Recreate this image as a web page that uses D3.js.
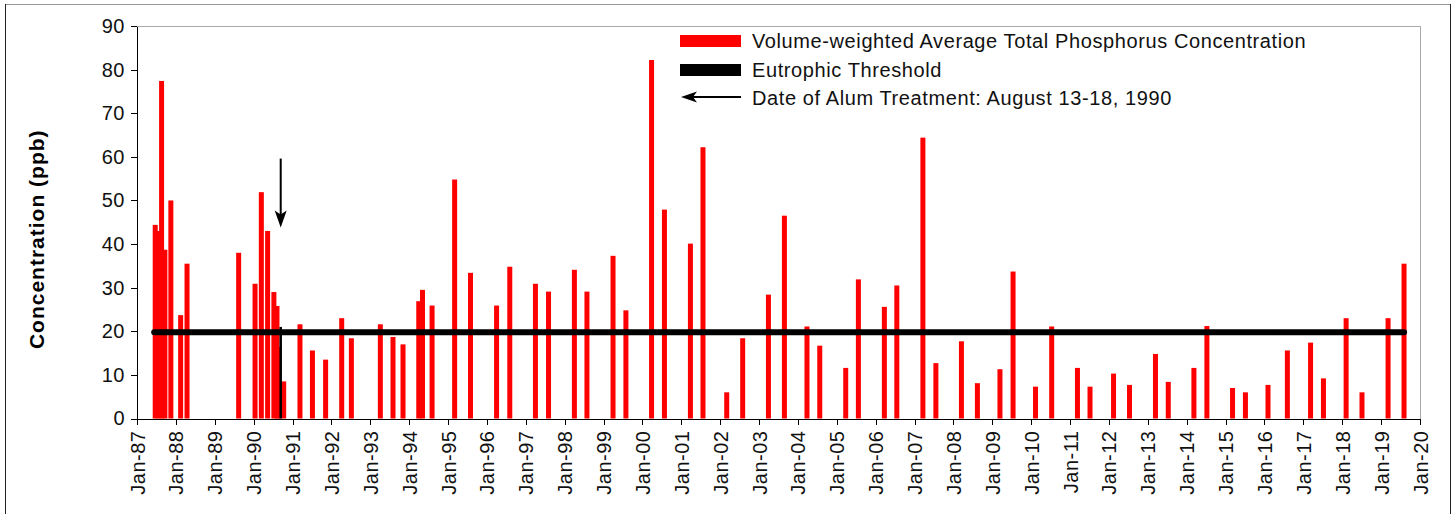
<!DOCTYPE html>
<meta charset="utf-8">
<style>
body {
  margin: 0;
  background: #fff;
}

svg {
  font-family: "Liberation Sans", Arial, sans-serif;
}

.axis path,
.axis line {
  stroke: #000;
  stroke-width: 1;
  shape-rendering: crispEdges;
}

.axis text {
  font-size: 20px;
  letter-spacing: 0.5px;
  fill: #111;
}

.frame {
  shape-rendering: crispEdges;
}

.legend text {
  font-size: 20px;
  letter-spacing: 0.6px;
  fill: #111;
}
</style>
<body>
<div id="chart"></div>
<script src="https://cdn.jsdelivr.net/npm/d3@7"></script>
<script>

// sample dates and volume-weighted average TP (ppb)
var sampleDates = [
  "1987-06-21", "1987-07-23", "1987-08-20", "1987-09-20", "1987-11-15",
  "1988-02-15", "1988-04-15", "1989-08-13", "1990-01-14", "1990-03-14",
  "1990-05-12", "1990-07-10", "1990-08-08", "1990-08-24", "1990-10-10",
  "1991-03-12", "1991-07-07", "1991-11-08", "1992-04-07", "1992-07-07",
  "1993-04-05", "1993-08-02", "1993-11-04", "1994-04-01", "1994-05-06",
  "1994-08-04", "1995-03-04", "1995-07-31", "1996-04-01", "1996-08-03",
  "1997-04-01", "1997-08-02", "1998-04-02", "1998-07-29", "1999-03-31",
  "1999-07-30", "2000-03-27", "2000-07-26", "2001-03-27", "2001-07-23",
  "2002-03-03", "2002-07-31", "2003-03-30", "2003-08-27", "2004-03-26",
  "2004-07-24", "2005-03-25", "2005-07-22", "2006-03-23", "2006-07-18",
  "2007-03-20", "2007-07-20", "2008-03-16", "2008-08-13", "2009-03-13",
  "2009-07-14", "2010-02-10", "2010-07-12", "2011-03-11", "2011-07-07",
  "2012-02-13", "2012-07-12", "2013-03-13", "2013-07-11", "2014-03-09",
  "2014-07-09", "2015-03-07", "2015-07-06", "2016-02-03", "2016-08-03",
  "2017-03-09", "2017-07-08", "2018-02-06", "2018-07-05", "2019-03-07",
  "2019-08-04"
];

var tpValues = [
  44.4, 43.0, 77.4, 38.7, 50.0,
  23.7, 35.5, 38.0, 30.9, 51.9,
  43.0, 29.0, 25.8, 16.4, 8.5,
  21.6, 15.6, 13.5, 23.0, 18.4,
  21.6, 18.7, 17.0, 26.9, 29.5,
  25.9, 54.8, 33.4, 25.9, 34.8,
  30.9, 29.1, 34.1, 29.1, 37.3,
  24.8, 82.2, 47.9, 40.1, 62.2,
  6.0, 18.4, 28.4, 46.5, 21.1,
  16.7, 11.6, 31.9, 25.6, 30.5,
  64.4, 12.7, 17.7, 8.1, 11.3,
  33.7, 7.3, 21.1, 11.6, 7.3,
  10.3, 7.7, 14.8, 8.4, 11.6,
  21.2, 7.0, 6.0, 7.7, 15.6,
  17.4, 9.2, 23.0, 6.0, 23.0,
  35.5
];

var eutrophicThreshold = 20;

// alum treatment marker: short bar plus arrow
var alumDate = "1990-09-12";
var alumBarValue = 21;
var alumArrowFrom = 59.6,
    alumArrowTo = 43.8;

var yTicks = [0, 10, 20, 30, 40, 50, 60, 70, 80, 90];
var tickYears = d3.range(1987, 2021);

var legendLabels = [
  "Volume-weighted Average Total Phosphorus Concentration",
  "Eutrophic Threshold",
  "Date of Alum Treatment: August 13-18, 1990"
];

var width = 1455,
    height = 514,
    margin = {top: 26, right: 35, bottom: 95.5, left: 137};

var parseDate = d3.timeParse("%Y-%m-%d");

var data = sampleDates.map(function(d, i) {
  return {date: parseDate(d), value: tpValues[i]};
});

var x = d3.scaleTime()
    .domain([new Date(1987, 0, 1), new Date(2020, 0, 1)])
    .range([margin.left, width - margin.right]);

var y = d3.scaleLinear()
    .domain([0, 90])
    .range([height - margin.bottom, margin.top]);

var svg = d3.select("#chart").append("svg")
    .attr("width", width)
    .attr("height", height);

// outer chart frame
svg.append("line").attr("class", "frame")
    .attr("x1", 5).attr("x2", 1451).attr("y1", 4.5).attr("y2", 4.5)
    .attr("stroke", "#999");
svg.append("line").attr("class", "frame")
    .attr("x1", 5.5).attr("x2", 5.5).attr("y1", 4).attr("y2", height)
    .attr("stroke", "#222");
svg.append("line").attr("class", "frame")
    .attr("x1", 1450.5).attr("x2", 1450.5).attr("y1", 4).attr("y2", height)
    .attr("stroke", "#222");

// plot area border (top + right)
svg.append("path").attr("class", "frame")
    .attr("d", "M" + x.range()[0] + "," + (y(90) + 0.5) + "H" + (x.range()[1] + 0.5) + "V" + y(0))
    .attr("fill", "none")
    .attr("stroke", "#aaa");

var barW = 5;

svg.append("g").selectAll("rect")
    .data(data)
  .enter().append("rect")
    .attr("x", function(d) { return x(d.date) - barW / 2; })
    .attr("y", function(d) { return y(d.value); })
    .attr("width", barW)
    .attr("height", function(d) { return y(0) - y(d.value); })
    .attr("fill", "#ff0000");

// eutrophic threshold spans the sampling record
svg.append("line")
    .attr("x1", x(data[0].date) - 1)
    .attr("x2", x(data[data.length - 1].date))
    .attr("y1", y(eutrophicThreshold) + 1)
    .attr("y2", y(eutrophicThreshold) + 1)
    .attr("stroke", "#000")
    .attr("stroke-width", 6)
    .attr("stroke-linecap", "round");

var ax = x(parseDate(alumDate));

svg.append("line")
    .attr("x1", ax).attr("x2", ax)
    .attr("y1", y(0)).attr("y2", y(alumBarValue))
    .attr("stroke", "#000")
    .attr("stroke-width", 2.5);

// arrow pointing at the treatment date
svg.append("line")
    .attr("x1", ax).attr("x2", ax)
    .attr("y1", y(alumArrowFrom)).attr("y2", y(alumArrowTo) - 10)
    .attr("stroke", "#000")
    .attr("stroke-width", 2);
svg.append("path")
    .attr("d", "M" + ax + "," + y(alumArrowTo) + "l-6,-17l6,4l6,-4z")
    .attr("fill", "#000");

// axes
var xAxis = d3.axisBottom(x)
    .tickValues(tickYears.map(function(yr) { return new Date(yr, 0, 1); }))
    .tickFormat(d3.timeFormat("%b-%y"))
    .tickSize(6)
    .tickSizeOuter(0);

var yAxis = d3.axisLeft(y)
    .tickValues(yTicks)
    .tickSize(6)
    .tickPadding(6)
    .tickSizeOuter(0);

svg.append("g")
    .attr("class", "x axis")
    .attr("transform", "translate(0," + y(0) + ")")
    .call(xAxis)
  .selectAll("text")
    .attr("transform", "rotate(-90)")
    .attr("x", -12)
    .attr("y", 0)
    .attr("dy", "0.35em")
    .style("text-anchor", "end");

svg.append("g")
    .attr("class", "y axis")
    .attr("transform", "translate(" + margin.left + ",0)")
    .call(yAxis);

svg.selectAll(".axis text").attr("font-family", null).attr("font-size", null);

svg.append("text")
    .attr("transform", "translate(44," + ((y(0) + y(90)) / 2 + 17) + ") rotate(-90)")
    .attr("text-anchor", "middle")
    .style("font-size", "21px")
    .style("font-weight", "bold")
    .style("letter-spacing", "1px")
    .text("Concentration (ppb)");

// legend
var legend = svg.append("g").attr("class", "legend")
    .attr("transform", "translate(680,0)");

legend.append("rect")
    .attr("x", 0).attr("y", 35).attr("width", 61).attr("height", 12)
    .attr("fill", "#ff0000");
legend.append("rect")
    .attr("x", 0).attr("y", 64).attr("width", 61).attr("height", 12)
    .attr("fill", "#000");
legend.append("line")
    .attr("x1", 10).attr("x2", 61).attr("y1", 97).attr("y2", 97)
    .attr("stroke", "#000").attr("stroke-width", 2);
legend.append("path")
    .attr("d", "M1,97l16,-5.5l-4,5.5l4,5.5z")
    .attr("fill", "#000");

legend.selectAll("text")
    .data(legendLabels)
  .enter().append("text")
    .attr("x", 72)
    .attr("y", function(d, i) { return 48 + i * 28.5; })
    .text(function(d) { return d; });

</script>
</body>
</html>
